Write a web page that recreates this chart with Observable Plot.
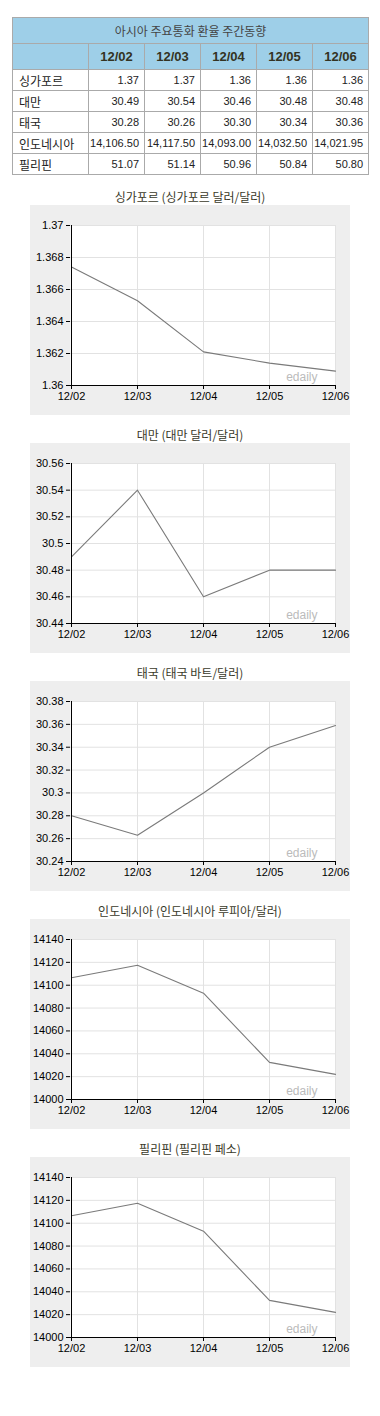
<!DOCTYPE html>
<html>
<head>
<meta charset="utf-8">
<script src="https://cdn.jsdelivr.net/npm/d3@7"></script>
<script src="https://cdn.jsdelivr.net/npm/@observablehq/plot@0.6"></script>
<style>
  html, body { margin: 0; padding: 0; background: white; }
  body { width: 380px; font-family: "Noto Sans CJK KR", "Liberation Sans", sans-serif; }
  table.fx { position: relative; margin: 17px 0 0 12px; border-collapse: collapse; table-layout: fixed; width: 356px; }
  table.fx td, table.fx th { border: 1px solid #aaaaaa; padding: 0; overflow: hidden; white-space: nowrap; }
  table.fx .ttl { background: #9ecfe8; height: 25px; text-align: center; font-size: 12px; color: #444; font-weight: normal; }
  table.fx .hd th { background: #9ecfe8; height: 25px; font-family: "Liberation Sans", Arial, sans-serif; font-size: 13px; font-weight: bold; color: #333322; text-align: center; }
  table.fx .hd th.blank { background: #9ecfe8; }
  table.fx td { height: 20px; font-size: 11px; font-family: "Liberation Sans", Arial, sans-serif; color: #222; text-align: right; padding-right: 5px; }
  table.fx td.nm { font-family: "Noto Sans CJK KR", sans-serif; font-size: 12px; text-align: left; padding-left: 6px; padding-right: 0; color: #222; }
  .ctitle { height: 16px; line-height: 16px; margin-top: 12px; text-align: center; font-size: 12px; color: #3a3a2a; }
  .ctitle.first { margin-top: 14px; }
  .panel { margin-left: 30px; width: 320px; }
  .panel svg { display: block; }
</style>
</head>
<body>
<div id="root"></div>
<script>
// ---- data ----
const dates = ["12/02", "12/03", "12/04", "12/05", "12/06"];
const countries = ["싱가포르", "대만", "태국", "인도네시아", "필리핀"];
const tableTitle = "아시아 주요통화 환율 주간동향";

// table values (as printed)
const tableSingapore = [1.37, 1.37, 1.36, 1.36, 1.36];
const tableTaiwan = [30.49, 30.54, 30.46, 30.48, 30.48];
const tableThailand = [30.28, 30.26, 30.30, 30.34, 30.36];
const tableIndonesia = [14106.50, 14117.50, 14093.00, 14032.50, 14021.95];
const tablePhilippines = [51.07, 51.14, 50.96, 50.84, 50.80];

// chart series (as drawn)
const chartSingapore = [1.3674, 1.3653, 1.3621, 1.3614, 1.3609];
const chartTaiwan = [30.49, 30.54, 30.46, 30.48, 30.48];
const chartThailand = [30.28, 30.263, 30.30, 30.34, 30.359];
const chartIndonesia = [14106.5, 14117.5, 14093, 14032.5, 14021.95];
const chartPhilippines = [14106.5, 14117.5, 14093, 14032.5, 14021.95];

const chartTitles = [
  "싱가포르 (싱가포르 달러/달러)",
  "대만 (대만 달러/달러)",
  "태국 (태국 바트/달러)",
  "인도네시아 (인도네시아 루피아/달러)",
  "필리핀 (필리핀 페소)"
];

// y tick labels per chart
const ticksSingapore = [1.36, 1.362, 1.364, 1.366, 1.368, 1.37];
const ticksTaiwan = [30.44, 30.46, 30.48, 30.5, 30.52, 30.54, 30.56];
const ticksThailand = [30.24, 30.26, 30.28, 30.3, 30.32, 30.34, 30.36, 30.38];
const ticksIndonesia = [14000, 14020, 14040, 14060, 14080, 14100, 14120, 14140];
const ticksPhilippines = [14000, 14020, 14040, 14060, 14080, 14100, 14120, 14140];

const watermark = "edaily";

// ---- build ----
const root = document.getElementById("root");

// table
const tableRows = [tableSingapore, tableTaiwan, tableThailand, tableIndonesia, tablePhilippines];
const numFmt = d3.format(",.2f");
let html = '<table class="fx"><colgroup><col style="width:76px">' + dates.map(() => '<col style="width:56px">').join("") + '</colgroup>';
html += '<tr><th class="ttl" colspan="' + (dates.length + 1) + '">' + tableTitle + '</th></tr>';
html += '<tr class="hd"><th class="blank"></th>' + dates.map(d => '<th>' + d + '</th>').join("") + '</tr>';
tableRows.forEach((row, i) => {
  html += '<tr><td class="nm">' + countries[i] + '</td>' + row.map(v => '<td>' + numFmt(v) + '</td>').join("") + '</tr>';
});
html += '</table>';
root.insertAdjacentHTML("beforeend", html);

const series = [chartSingapore, chartTaiwan, chartThailand, chartIndonesia, chartPhilippines];
const tickSets = [ticksSingapore, ticksTaiwan, ticksThailand, ticksIndonesia, ticksPhilippines];
const tickFmt = d => String(+d.toFixed(6));

series.forEach((values, i) => {
  const ticks = tickSets[i];
  const domain = [ticks[0], ticks[ticks.length - 1]];
  const data = dates.map((d, j) => ({date: d, value: values[j]}));

  const t = document.createElement("div");
  t.className = "ctitle" + (i === 0 ? " first" : "");
  t.textContent = chartTitles[i];
  root.appendChild(t);

  const chart = Plot.plot({
    width: 320,
    height: 210,
    marginLeft: 40,
    marginRight: 15,
    marginTop: 20,
    marginBottom: 30,
    style: {background: "#eeeeee", fontFamily: "'Liberation Sans', Arial, sans-serif", fontSize: "11px", color: "black", overflow: "visible"},
    x: {type: "point", domain: dates, padding: 0, label: null},
    y: {domain, label: null},
    marks: [
      Plot.frame({fill: "white", stroke: null}),
      Plot.gridX({stroke: "#e2e2e2", strokeOpacity: 1}),
      Plot.gridY(ticks, {stroke: "#e2e2e2", strokeOpacity: 1}),
      Plot.line(data, {x: "date", y: "value", stroke: "#7a7a7a", strokeWidth: 1.1}),
      Plot.text([watermark], {frameAnchor: "bottom-right", dx: -18, dy: -5, fill: "#bbbbbb", fontSize: 12}),
      Plot.ruleY([domain[0]], {stroke: "black"}),
      Plot.ruleX([dates[0]], {stroke: "black"}),
      Plot.axisY(ticks, {tickSize: 4, tickPadding: 3, tickFormat: tickFmt, label: null}),
      Plot.axisX({tickSize: 4, tickPadding: 3, label: null})
    ]
  });
  const p = document.createElement("div");
  p.className = "panel";
  p.appendChild(chart);
  root.appendChild(p);
});
</script>
</body>
</html>
